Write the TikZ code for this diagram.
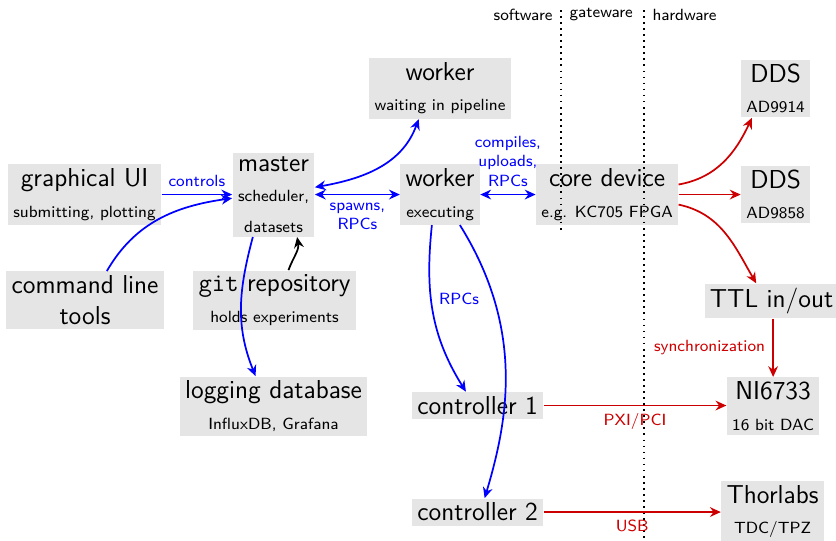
\documentclass[tikz,border=0pt]{standalone}
\usepackage{tikz}
\usetikzlibrary{positioning, arrows.meta}
\renewcommand{\familydefault}{\sfdefault}
\newcommand{\subsz}{\fontsize{7.5pt}{9pt}\selectfont}
\tikzset{
  box/.style={fill=black!10, font=\large, align=center, inner xsep=2.5pt, inner ysep=2pt},
  lbl/.style={font=\subsz, align=center},
  bl/.style={-{Stealth[length=5pt, width=4.5pt]}, thick, blue},
  bbl/.style={{Stealth[length=5pt, width=4.5pt]}-{Stealth[length=5pt, width=4.5pt]}, thick, blue},
  rd/.style={-{Stealth[length=5pt, width=4.5pt]}, thick, red!80!black},
  sep/.style={thick, dotted}
}

\begin{document}
\begin{tikzpicture}
  \useasboundingbox (0,0) rectangle (13.6,-8.786);
  % software side
  \node[box] (gui) at (1.375,-3.165) {graphical UI\\{\subsz submitting, plotting}};
  \node[box] (cli) at (1.383,-4.881) {command line\\tools};
  \node[box] (master) at (4.45,-3.165) {master\\{\subsz scheduler,}\\{\subsz datasets}};
  \node[box] (git) at (4.466,-4.881) {\texttt{git} repository\\{\subsz holds experiments}};
  \node[box] (log) at (4.45,-6.606) {logging database\\{\subsz InfluxDB, Grafana}};
  \node[box] (wait) at (7.159,-1.44) {worker\\{\subsz waiting in pipeline}};
  \node[box] (exec) at (7.159,-3.165) {worker\\{\subsz executing}};
  \node[box] (ctl1) at (7.769,-6.597) {controller 1};
  \node[box] (ctl2) at (7.769,-8.33) {controller 2};
  % gateware and hardware
  \node[box] (core) at (9.876,-3.165) {core device\\{\subsz e.g. KC705 FPGA}};
  \node[box] (dds1) at (12.618,-1.44) {DDS\\{\subsz AD9914}};
  \node[box] (dds2) at (12.618,-3.165) {DDS\\{\subsz AD9858}};
  \node[box] (ttl) at (12.552,-4.897) {TTL in/out};
  \node[box] (ni) at (12.577,-6.606) {NI6733\\{\subsz 16 bit DAC}};
  \node[box] (thor) at (12.568,-8.32) {Thorlabs\\{\subsz TDC/TPZ}};
  % domain separators
  \coordinate (d1top) at (9.127,-0.163);
  \coordinate (d1bot) at (9.127,-3.79);
  \coordinate (d2top) at (10.478,-0.163);
  \coordinate (d2bot) at (10.478,-8.786);
  \draw[sep] (d1top) -- (d1bot);
  \draw[sep] (d2top) -- (d2bot);
  \node[lbl] (sw) at (8.51,-0.244) {software};
  \node[lbl] (gw) at (9.78,-0.244) {gateware};
  \node[lbl] (hw) at (11.137,-0.244) {hardware};
  % software links
  \draw[bl] (gui.east) -- node[lbl, above, blue]{controls} (master.west);
  \draw[bl] (cli.53) to[out=60, in=188] (master.185);
  \draw[bbl] (master.10) to[out=10, in=-110] (wait.235);
  \draw[bbl] (master.east) -- node[lbl, below, blue]{spawns,\\RPCs} (exec.west);
  \draw[bbl] (exec.east) -- node[lbl, above, blue]{compiles,\\uploads,\\RPCs} (core.west);
  \draw[bl] (master.244) to[out=-105, in=112] (log.121);
  \draw[-{Stealth[length=5pt, width=4.5pt]}, thick] (git.65) to[out=70, in=-80] (master.-61);
  \draw[bl] (exec.255) to[out=-96, in=122] node[lbl, right, blue, pos=0.42]{RPCs} (ctl1.130);
  \draw[bl] (exec.303) .. controls +(1.07,-1.71) and +(0.37,1.24) .. (ctl2.63);
  % hardware links
  \draw[rd] (core.8) to[out=10, in=-115] (dds1.231);
  \draw[rd] (core.east) -- (dds2.west);
  \draw[rd] (core.-8) to[out=-12, in=120] (ttl.131);
  \draw[rd] (ttl.south -| ni.north) -- node[lbl, left, red!80!black]{synchronization} (ni.north);
  \draw[rd] (ctl1.east) -- node[lbl, below, red!80!black]{PXI/PCI} (ctl1.east -| ni.west);
  \draw[rd] (ctl2.east) -- node[lbl, below, red!80!black]{USB} (ctl2.east -| thor.west);
\end{tikzpicture}
\end{document}
